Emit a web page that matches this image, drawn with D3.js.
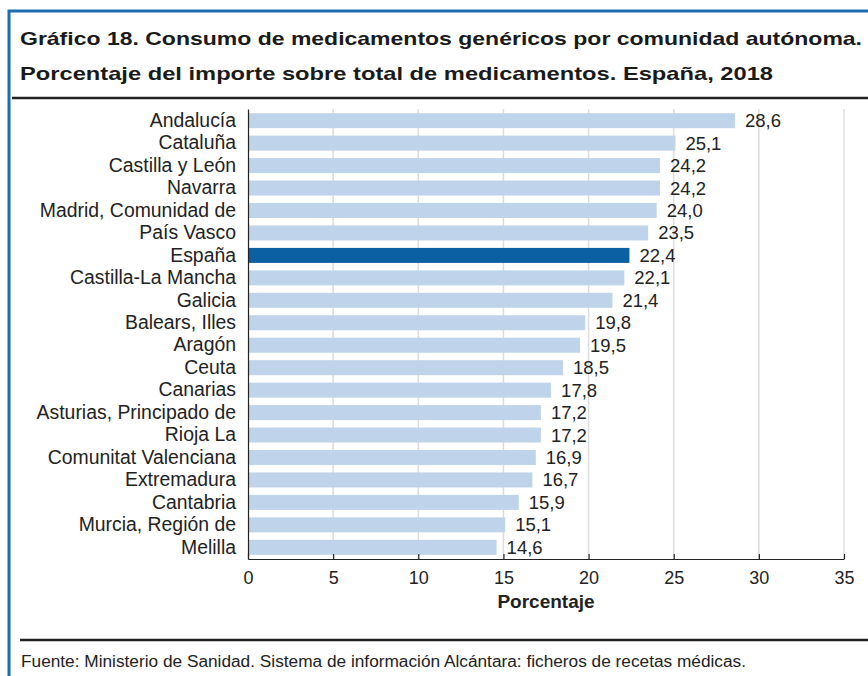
<!DOCTYPE html>
<html>
<head>
<meta charset="utf-8">
<script src="https://cdn.jsdelivr.net/npm/d3@7"></script>
<style>
  body { margin: 0; background: #fff; }
  svg { display: block; font-family: "Liberation Sans", Arial, sans-serif; }
</style>
</head>
<body>
<script>
var regions = ["Andalucía", "Cataluña", "Castilla y León", "Navarra", "Madrid, Comunidad de",
  "País Vasco", "España", "Castilla-La Mancha", "Galicia", "Balears, Illes", "Aragón", "Ceuta",
  "Canarias", "Asturias, Principado de", "Rioja La", "Comunitat Valenciana", "Extremadura",
  "Cantabria", "Murcia, Región de", "Melilla"];
var values = [28.6, 25.1, 24.2, 24.2, 24.0, 23.5, 22.4, 22.1, 21.4, 19.8, 19.5, 18.5, 17.8,
  17.2, 17.2, 16.9, 16.7, 15.9, 15.1, 14.6];
var xTicks = [0, 5, 10, 15, 20, 25, 30, 35];

var W = 868, H = 676;
var margin = {top: 109, right: 24, bottom: 117, left: 248},
    width = W - margin.left - margin.right,
    height = H - margin.top - margin.bottom;

var svg = d3.select('body').append('svg')
  .attr('width', W)
  .attr('height', H);

// blue frame (top and left)
svg.append('path')
  .attr('d', 'M9,676 V11 H868')
  .attr('fill', 'none')
  .attr('stroke', '#1c6cb0')
  .attr('stroke-width', 3);

svg.append('text')
  .attr('x', 20).attr('y', 45)
  .attr('textLength', 842).attr('lengthAdjust', 'spacingAndGlyphs')
  .style('font-size', '18.5px').style('font-weight', 'bold').attr('fill', '#1a1a1a')
  .text('Gráfico 18. Consumo de medicamentos genéricos por comunidad autónoma.');
svg.append('text')
  .attr('x', 20).attr('y', 80)
  .attr('textLength', 753).attr('lengthAdjust', 'spacingAndGlyphs')
  .style('font-size', '18.5px').style('font-weight', 'bold').attr('fill', '#1a1a1a')
  .text('Porcentaje del importe sobre total de medicamentos. España, 2018');

svg.append('line')
  .attr('x1', 12).attr('x2', 868).attr('y1', 98).attr('y2', 98)
  .attr('stroke', '#222').attr('stroke-width', 2.5);

svg.append('line')
  .attr('x1', 20).attr('x2', 868).attr('y1', 640).attr('y2', 640)
  .attr('stroke', '#222').attr('stroke-width', 2.5);

svg.append('text')
  .attr('x', 21).attr('y', 667)
  .attr('textLength', 725).attr('lengthAdjust', 'spacingAndGlyphs')
  .style('font-size', '16px').attr('fill', '#222')
  .text('Fuente: Ministerio de Sanidad. Sistema de información Alcántara: ficheros de recetas médicas.');

var g = svg.append('g')
  .attr('transform', 'translate(' + margin.left + ',' + margin.top + ')');

var x = d3.scaleLinear().domain([0, 35]).range([0, width]);
var y = d3.scaleBand().domain(regions).range([0, height]).paddingInner(0.332).paddingOuter(0.186);

// gridlines
g.selectAll('.grid')
  .data(xTicks.slice(1))
  .enter().append('line')
  .attr('class', 'grid')
  .attr('x1', function(d) { return x(d); })
  .attr('x2', function(d) { return x(d); })
  .attr('y1', 0).attr('y2', height)
  .attr('stroke', '#dcdcdc').attr('stroke-width', 1.5);

// bars
g.selectAll('.bar')
  .data(values)
  .enter().append('rect')
  .attr('class', 'bar')
  .attr('x', x(0) + 1)
  .attr('y', function(d, i) { return y(regions[i]); })
  .attr('width', function(d) { return x(d) - x(0) - 1; })
  .attr('height', y.bandwidth())
  .attr('fill', function(d, i) { return regions[i] === 'España' ? '#0b5fa3' : '#bfd3ea'; });

// value labels
g.selectAll('.val')
  .data(values)
  .enter().append('text')
  .attr('class', 'val')
  .attr('x', function(d) { return x(d) + 10; })
  .attr('y', function(d, i) { return y(regions[i]) + y.bandwidth() / 2 + 6.5; })
  .style('font-size', '18.5px').attr('fill', '#222')
  .text(function(d) { return d3.format('.1f')(d).replace('.', ','); });

// y axis
var yAxis = d3.axisLeft(y).tickSize(0).tickPadding(12);
var ya = g.append('g').call(yAxis);
ya.select('.domain').attr('stroke', '#222').attr('stroke-width', 1.2);
ya.selectAll('text').style('font-size', '19.4px').style('font-family', '"Liberation Sans", Arial, sans-serif').attr('fill', '#222');

// x axis
var xAxis = d3.axisBottom(x).tickValues(xTicks).tickSize(-5).tickPadding(12).tickSizeOuter(0);
var xa = g.append('g').attr('transform', 'translate(0,' + height + ')').call(xAxis);
xa.select('.domain').attr('stroke', '#222').attr('stroke-width', 1.2);
xa.selectAll('.tick line').attr('stroke', '#222').attr('stroke-width', 1.2);
xa.selectAll('text').style('font-size', '18px').style('font-family', '"Liberation Sans", Arial, sans-serif').attr('fill', '#222');

g.append('text')
  .attr('x', width / 2).attr('y', height + 49)
  .attr('text-anchor', 'middle')
  .style('font-size', '19px').style('font-weight', 'bold').attr('fill', '#222')
  .text('Porcentaje');
</script>
</body>
</html>
